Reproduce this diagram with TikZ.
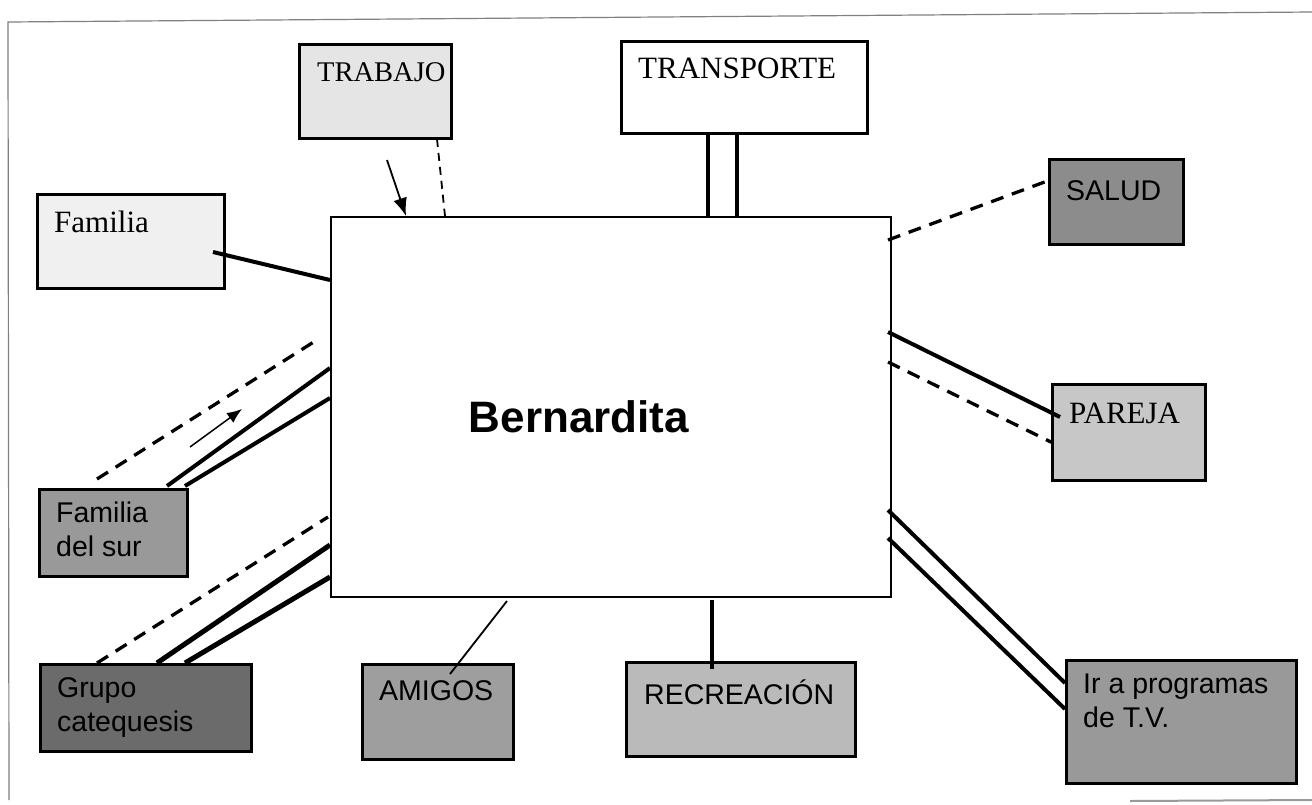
\documentclass[tikz,border=0pt]{standalone}
\usepackage{fontspec}
\setmainfont{Liberation Serif}
\setsansfont{Liberation Sans}
\usetikzlibrary{arrows.meta,calc}
\begin{document}
\begin{tikzpicture}[x=1pt,y=-1pt,
 box/.style={draw=black,line width=2.8pt,anchor=north west,inner sep=0pt},
 sertxt/.style={font=\fontsize{31}{34}\selectfont,anchor=base west,inner sep=0pt},
 sanstxt/.style={font=\sffamily\fontsize{28.5}{34}\selectfont,anchor=north west,inner sep=0pt,align=left},
 solidlink/.style={line width=4pt},
 heavylink/.style={line width=5pt},
 thinlink/.style={line width=1.8pt},
 dashlink/.style={line width=3.3pt,dash pattern=on 13pt off 9pt},
 thindash/.style={line width=1.8pt,dash pattern=on 8pt off 6pt},
 pointer/.style={line width=1.8pt,-{Latex[length=18pt,width=14pt]}},
]
\useasboundingbox (0,0) rectangle (1312,804);
% outer frame
\draw[gray,line width=1.2pt] (9,800) -- (8,22) -- (1312,12);
\draw[gray!80,line width=2pt] (1130,801) -- (1312,800);

% central box
\node[box,line width=2.2pt,minimum width=560pt,minimum height=380pt] (cen) at (330,216) {};
\node[font=\sffamily\bfseries\fontsize{44}{48}\selectfont,anchor=base,inner sep=0pt] (bern) at (579,432) {Bernardita};

% satellite boxes
\node[box,fill=black!10,minimum width=152pt,minimum height=94pt] (trab) at (298,43) {};
\node[sertxt,font=\fontsize{28.5}{34}\selectfont] (trabt) at (317,81) {TRABAJO};

\node[box,fill=white,minimum width=246pt,minimum height=92pt] (trans) at (620,40) {};
\node[sertxt] (transt) at (638,78) {TRANSPORTE};

\node[box,fill=black!6,minimum width=187pt,minimum height=94pt] (fam) at (36,193) {};
\node[sertxt] (famt) at (54,232) {Familia};

\node[box,fill=black!45,minimum width=134pt,minimum height=85pt] (salud) at (1048,158) {};
\node[sanstxt] (saludt) at (1066,180) {SALUD};

\node[box,fill=black!22,minimum width=153pt,minimum height=96pt] (par) at (1051,383) {};
\node[sertxt] (part) at (1069,423) {PAREJA};

\node[box,fill=black!40,minimum width=230pt,minimum height=123pt] (tv) at (1065,659) {};
\node[sanstxt] (tvt) at (1083,674) {Ir a programas\\de T.V.};

\node[box,fill=black!40,minimum width=148pt,minimum height=87pt] (sur) at (38,488) {};
\node[sanstxt] (surt) at (56,502) {Familia\\del sur};

\node[box,fill=black!58,minimum width=211pt,minimum height=87pt] (gru) at (39,663) {};
\node[sanstxt] (grut) at (57,677) {Grupo\\catequesis};

\node[box,fill=black!38,minimum width=151pt,minimum height=95pt] (ami) at (361,663) {};
\node[sanstxt] (amit) at (379,680) {AMIGOS};

\node[box,fill=black!27,minimum width=229pt,minimum height=94pt] (rec) at (625,661) {};
\node[sanstxt] (rect) at (644,680) {RECREACIÓN};

% connector end points
\coordinate (famA) at (213,252);
\coordinate (cenFam) at (330,280);
\coordinate (trabArrS) at (387,160);
\coordinate (cenTrabArr) at (406,216);
\coordinate (trabD) at (437,139);
\coordinate (cenTrabD) at (445,216);
\coordinate (transL) at (708,132);
\coordinate (cenTransL) at (708,216);
\coordinate (transR) at (737,132);
\coordinate (cenTransR) at (737,216);
\coordinate (cenSalud) at (888,240);
\coordinate (saludA) at (1050,180);
\coordinate (cenParS) at (888,332);
\coordinate (parS) at (1060,417);
\coordinate (cenParD) at (888,362);
\coordinate (parD) at (1053,443);
\coordinate (cenTv1) at (888,510);
\coordinate (tv1) at (1065,683);
\coordinate (cenTv2) at (888,538);
\coordinate (tv2) at (1065,709);
\coordinate (surD) at (97,479);
\coordinate (cenSurD) at (320,338);
\coordinate (surS1) at (167,486);
\coordinate (cenSurS1) at (330,368);
\coordinate (surS2) at (185,486);
\coordinate (cenSurS2) at (330,398);
\coordinate (surArrS) at (190,447);
\coordinate (surArrE) at (242,409);
\coordinate (gruD) at (97,663);
\coordinate (cenGruD) at (328,517);
\coordinate (gruS1) at (157,663);
\coordinate (cenGruS1) at (330,545);
\coordinate (gruS2) at (185,663);
\coordinate (cenGruS2) at (330,577);
\coordinate (cenAmi) at (507,601);
\coordinate (amiA) at (450,674);
\coordinate (cenRec) at (712,600);
\coordinate (recA) at (712,669);

% connectors
\draw[solidlink] (famA) -- (cenFam);
\draw[pointer] (trabArrS) -- (cenTrabArr);
\draw[thindash] (trabD) -- (cenTrabD);
\draw[solidlink] (transL) -- (cenTransL);
\draw[solidlink] (transR) -- (cenTransR);
\draw[dashlink] (cenSalud) -- (saludA);
\draw[solidlink] (cenParS) -- (parS);
\draw[dashlink] (cenParD) -- (parD);
\draw[solidlink] (cenTv1) -- (tv1);
\draw[solidlink] (cenTv2) -- (tv2);
\draw[dashlink] (surD) -- (cenSurD);
\draw[solidlink] (surS1) -- (cenSurS1);
\draw[solidlink] (surS2) -- (cenSurS2);
\draw[line width=1.5pt,-{Latex[length=15pt,width=12pt]}] (surArrS) -- (surArrE);
\draw[dashlink] (gruD) -- (cenGruD);
\draw[heavylink] (gruS1) -- (cenGruS1);
\draw[heavylink] (gruS2) -- (cenGruS2);
\draw[thinlink] (cenAmi) -- (amiA);
\draw[solidlink] (cenRec) -- (recA);
\end{tikzpicture}
\end{document}
